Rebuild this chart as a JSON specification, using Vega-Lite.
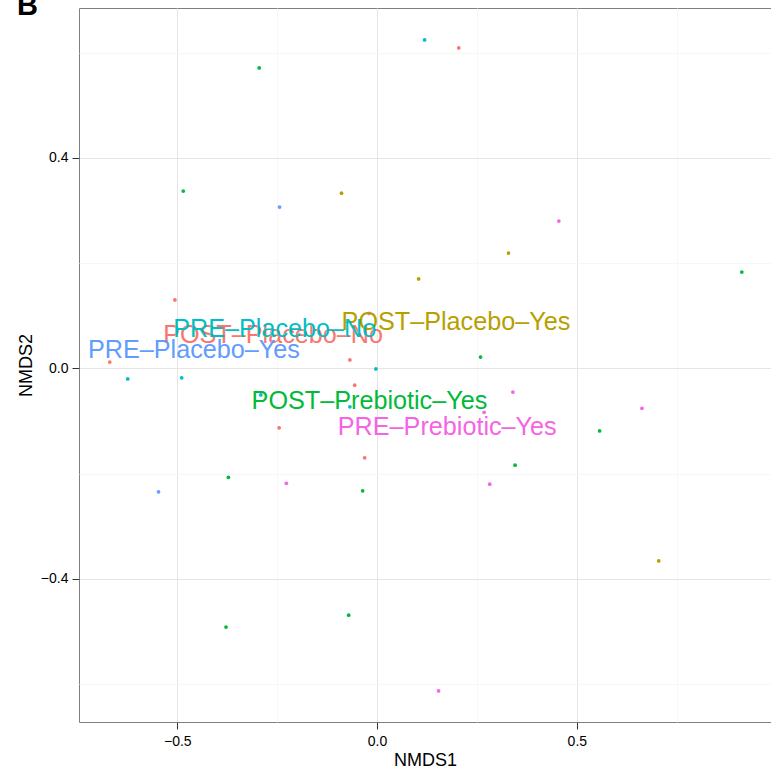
{
  "$schema": "https://vega.github.io/schema/vega-lite/v6.json",
  "width": 692,
  "height": 714,
  "autosize": {"type": "none"},
  "padding": {"left": 79, "top": 8, "right": 0, "bottom": 47},
  "background": "white",
  "title": {"text": "B", "anchor": "start", "frame": "group", "fontSize": 29, "fontWeight": "bold", "font": "Liberation Sans", "baseline": "alphabetic", "offset": -36, "dx": -62, "color": "black"},
  "config": {"view": {"stroke": "#7F7F7F", "strokeWidth": 1}, "font": "Liberation Sans"},
  "datasets": {
    "points": [
      {"group": "POST–Placebo–No", "NMDS1": 0.2045, "NMDS2": 0.609},
      {"group": "POST–Placebo–No", "NMDS1": -0.506, "NMDS2": 0.130},
      {"group": "POST–Placebo–No", "NMDS1": -0.669, "NMDS2": 0.012},
      {"group": "POST–Placebo–No", "NMDS1": -0.068, "NMDS2": 0.016},
      {"group": "POST–Placebo–No", "NMDS1": -0.056, "NMDS2": -0.032},
      {"group": "POST–Placebo–No", "NMDS1": -0.245, "NMDS2": -0.113},
      {"group": "POST–Placebo–No", "NMDS1": -0.031, "NMDS2": -0.170},
      {"group": "POST–Placebo–Yes", "NMDS1": -0.089, "NMDS2": 0.333},
      {"group": "POST–Placebo–Yes", "NMDS1": 0.329, "NMDS2": 0.219},
      {"group": "POST–Placebo–Yes", "NMDS1": 0.104, "NMDS2": 0.170},
      {"group": "POST–Placebo–Yes", "NMDS1": 0.705, "NMDS2": -0.366},
      {"group": "POST–Prebiotic–Yes", "NMDS1": -0.295, "NMDS2": 0.571},
      {"group": "POST–Prebiotic–Yes", "NMDS1": -0.485, "NMDS2": 0.337},
      {"group": "POST–Prebiotic–Yes", "NMDS1": 0.913, "NMDS2": 0.183},
      {"group": "POST–Prebiotic–Yes", "NMDS1": 0.259, "NMDS2": 0.0215},
      {"group": "POST–Prebiotic–Yes", "NMDS1": 0.557, "NMDS2": -0.119},
      {"group": "POST–Prebiotic–Yes", "NMDS1": 0.3455, "NMDS2": -0.184},
      {"group": "POST–Prebiotic–Yes", "NMDS1": -0.372, "NMDS2": -0.207},
      {"group": "POST–Prebiotic–Yes", "NMDS1": -0.036, "NMDS2": -0.2326},
      {"group": "POST–Prebiotic–Yes", "NMDS1": -0.071, "NMDS2": -0.469},
      {"group": "POST–Prebiotic–Yes", "NMDS1": -0.378, "NMDS2": -0.4916},
      {"group": "PRE–Placebo–No", "NMDS1": 0.119, "NMDS2": 0.624},
      {"group": "PRE–Placebo–No", "NMDS1": -0.624, "NMDS2": -0.020},
      {"group": "PRE–Placebo–No", "NMDS1": -0.489, "NMDS2": -0.018},
      {"group": "PRE–Placebo–No", "NMDS1": -0.003, "NMDS2": -0.001},
      {"group": "PRE–Placebo–No", "NMDS1": -0.291, "NMDS2": -0.0506},
      {"group": "PRE–Placebo–No", "NMDS1": -0.068, "NMDS2": -0.073},
      {"group": "PRE–Placebo–Yes", "NMDS1": -0.244, "NMDS2": 0.3065},
      {"group": "PRE–Placebo–Yes", "NMDS1": -0.547, "NMDS2": -0.2345},
      {"group": "PRE–Prebiotic–Yes", "NMDS1": 0.455, "NMDS2": 0.280},
      {"group": "PRE–Prebiotic–Yes", "NMDS1": 0.340, "NMDS2": -0.045},
      {"group": "PRE–Prebiotic–Yes", "NMDS1": 0.663, "NMDS2": -0.076},
      {"group": "PRE–Prebiotic–Yes", "NMDS1": 0.268, "NMDS2": -0.0836},
      {"group": "PRE–Prebiotic–Yes", "NMDS1": -0.227, "NMDS2": -0.2185},
      {"group": "PRE–Prebiotic–Yes", "NMDS1": 0.282, "NMDS2": -0.220},
      {"group": "PRE–Prebiotic–Yes", "NMDS1": 0.154, "NMDS2": -0.613},
      {"group": "PRE–Prebiotic–Yes", "NMDS1": -0.020, "NMDS2": 0.1045}
    ],
    "labels": [
      {"group": "POST–Placebo–No", "NMDS1": -0.2603, "NMDS2": 0.0665},
      {"group": "POST–Placebo–Yes", "NMDS1": 0.1975, "NMDS2": 0.0914},
      {"group": "POST–Prebiotic–Yes", "NMDS1": -0.019, "NMDS2": -0.0587},
      {"group": "PRE–Placebo–No", "NMDS1": -0.256, "NMDS2": 0.0775},
      {"group": "PRE–Placebo–Yes", "NMDS1": -0.4583, "NMDS2": 0.0369},
      {"group": "PRE–Prebiotic–Yes", "NMDS1": 0.1757, "NMDS2": -0.108}
    ]
  },
  "layer": [
    {
      "data": {"name": "points"},
      "mark": {"type": "circle", "size": 14, "opacity": 1},
      "encoding": {
        "x": {"field": "NMDS1", "type": "quantitative",
          "scale": {"domain": [-0.746, 0.986], "nice": false, "zero": false},
          "axis": {"orient": "bottom", "values": [-0.5, 0, 0.5], "format": ".1f", "grid": true, "gridColor": "#E5E5E5", "domain": false,
            "ticks": true, "tickColor": "#333333", "tickSize": 7, "labelPadding": 5, "labelFontSize": 14, "labelColor": "black", "labelFont": "Liberation Sans",
            "title": "NMDS1", "titleFontSize": 18, "titleFontWeight": "normal", "titleColor": "black", "titleFont": "Liberation Sans", "titlePadding": 3}},
        "y": {"field": "NMDS2", "type": "quantitative",
          "scale": {"domain": [-0.672, 0.6848], "nice": false, "zero": false},
          "axis": {"orient": "left", "values": [-0.4, 0, 0.4], "format": ".1f", "grid": true, "gridColor": "#E5E5E5", "domain": false,
            "ticks": true, "tickColor": "#333333", "tickSize": 7, "labelPadding": 4, "labelFontSize": 14, "labelColor": "black", "labelFont": "Liberation Sans",
            "title": "NMDS2", "titleFontSize": 18, "titleFontWeight": "normal", "titleColor": "black", "titleFont": "Liberation Sans", "titlePadding": 5}},
        "color": {"field": "group", "type": "nominal",
          "scale": {"domain": ["POST–Placebo–No", "POST–Placebo–Yes", "POST–Prebiotic–Yes", "PRE–Placebo–No", "PRE–Placebo–Yes", "PRE–Prebiotic–Yes"],
            "range": ["#F8766D", "#B79F00", "#00BA38", "#00BFC4", "#619CFF", "#F564E3"]},
          "legend": null}
      }
    },
    {
      "data": {"name": "labels"},
      "mark": {"type": "text", "fontSize": 25.2, "font": "Liberation Sans", "baseline": "middle", "align": "center", "dy": 1.5},
      "encoding": {
        "x": {"field": "NMDS1", "type": "quantitative",
          "scale": {"domain": [-0.746, 0.986], "nice": false, "zero": false},
          "axis": {"orient": "top", "values": [-0.25, 0.25, 0.75], "grid": true, "gridColor": "#F7F7F7", "labels": false, "ticks": false, "domain": false, "title": null}},
        "y": {"field": "NMDS2", "type": "quantitative",
          "scale": {"domain": [-0.672, 0.6848], "nice": false, "zero": false},
          "axis": {"orient": "right", "values": [-0.6, -0.2, 0.2, 0.6], "grid": true, "gridColor": "#F7F7F7", "labels": false, "ticks": false, "domain": false, "title": null}},
        "text": {"field": "group"},
        "color": {"field": "group", "type": "nominal",
          "scale": {"domain": ["POST–Placebo–No", "POST–Placebo–Yes", "POST–Prebiotic–Yes", "PRE–Placebo–No", "PRE–Placebo–Yes", "PRE–Prebiotic–Yes"],
            "range": ["#F8766D", "#B79F00", "#00BA38", "#00BFC4", "#619CFF", "#F564E3"]},
          "legend": null}
      }
    }
  ],
  "resolve": {"axis": {"x": "independent", "y": "independent"}}
}
